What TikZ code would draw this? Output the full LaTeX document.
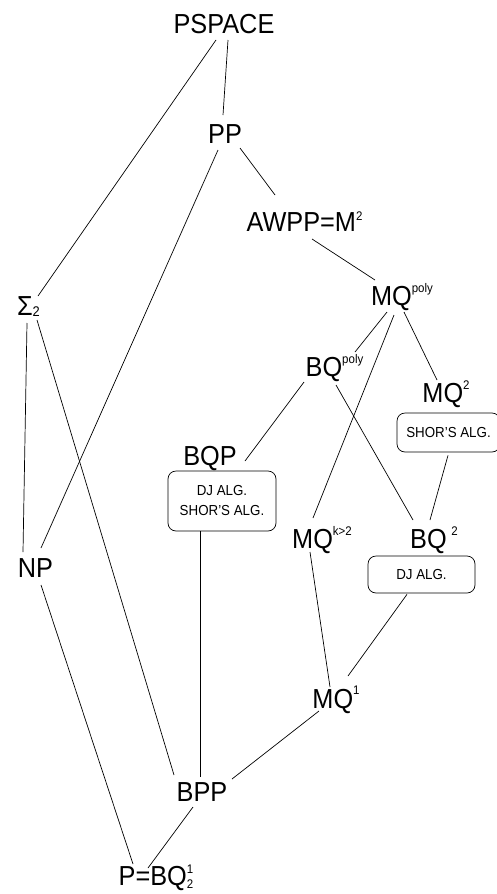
\documentclass[tikz,border=0pt]{standalone}
\usepackage{fontspec}
\setmainfont{Liberation Sans}[FakeStretch=0.92]
\usetikzlibrary{calc}
\newcommand{\supx}[2][11]{\raisebox{#1pt}{\fontsize{12.5}{12}\selectfont #2}}
\newcommand{\subbig}[2][-1]{\raisebox{#1pt}{\fontsize{14}{14}\selectfont #2}}
\begin{document}
\begin{tikzpicture}[x=1pt,y=-1pt,
  lbl/.style={anchor=base,inner sep=0pt,font=\fontsize{27.5}{30}\selectfont},
  box/.style={draw,rounded corners=8pt,line width=0.7pt,inner sep=0pt,align=center,font=\fontsize{14.5}{20}\selectfont},
  edge/.style={line width=0.7pt}]
\useasboundingbox (0,0) rectangle (496,894);
\node[lbl] (PSPACE) at (224,33) {PSPACE};
\node[lbl] (PP) at (225,143) {PP};
\node[lbl] (AWPP) at (304.5,231) {AWPP=M\supx[11]{2}};
\node[lbl] (MQpoly) at (402,305) {MQ\supx[13]{poly}};
\node[lbl] (BQpoly) at (334.5,376) {BQ\supx[13]{poly}};
\node[lbl] (MQtwo) at (446,402) {MQ\supx[13]{2}};
\node[lbl] (BQP) at (210,465) {BQP};
\node[lbl] (MQk) at (322,548) {MQ\supx[13]{k>2}};
\node[lbl] (BQtwo) at (434,548) {BQ\,\supx[13]{2}};
\node[lbl] (MQone) at (336,708) {MQ\supx[14]{1}};
\node[lbl] (BPP) at (202,801) {BPP};
\node[lbl] (P) at (156,885) {P=BQ\rlap{\supx[12]{1}}\supx[-3.5]{2}};
\node[lbl] (NP) at (35.5,577) {NP};
\node[lbl] (Sigma) at (28.5,315) {Σ\subbig[-1.5]{2}};
\node[box,minimum width=108pt,minimum height=60pt] (BQPbox) at (222,501) {DJ ALG.\\SHOR'S ALG.};
\node[box,minimum width=103pt,minimum height=39pt] (MQtwobox) at (448.5,432.5) {SHOR'S ALG.};
\node[box,minimum width=107pt,minimum height=37pt] (BQtwobox) at (421.5,574.5) {DJ ALG.};
\draw[edge] ($(PSPACE.base)+(-8,7)$) -- ($(Sigma.base)+(9.5,-19)$);
\draw[edge] ($(PSPACE.base)+(4,7)$) -- ($(PP.base)+(-2,-28)$);
\draw[edge] ($(PP.base)+(15,5)$) -- ($(AWPP.base)+(-29.5,-36)$);
\draw[edge] ($(PP.base)+(-7,7)$) -- ($(NP.base)+(5.5,-29)$);
\draw[edge] ($(AWPP.base)+(7.5,8)$) -- ($(MQpoly.base)+(-27,-25)$);
\draw[edge] ($(MQpoly.base)+(-15,7)$) -- ($(BQpoly.base)+(20.5,-24)$);
\draw[edge] ($(MQpoly.base)+(-8,10)$) -- ($(MQk.base)+(-9,-30)$);
\draw[edge] ($(MQpoly.base)+(2,7)$) -- ($(MQtwo.base)+(-9,-22)$);
\draw[edge] ($(BQpoly.base)+(-30.5,6)$) -- ($(BQP.base)+(35,-4)$);
\draw[edge] ($(BQpoly.base)+(1.5,9)$) -- ($(BQtwo.base)+(-21,-28)$);
\draw[edge] ($(MQtwobox.south)+(-0.5,3)$) -- ($(BQtwo.base)+(-4,-28)$);
\draw[edge] ($(BQPbox.south)+(-22,0)$) -- ($(BPP.base)+(-2,-24)$);
\draw[edge] ($(MQk.base)+(-12,4)$) -- ($(MQone.base)+(-6,-21)$);
\draw[edge] ($(BQtwobox.south)+(-14.5,1)$) -- ($(MQone.base)+(12,-32)$);
\draw[edge] ($(MQone.base)+(-17,3)$) -- ($(BPP.base)+(30,-22)$);
\draw[edge] ($(BPP.base)+(-9,6)$) -- ($(P.base)+(-8,-17)$);
\draw[edge] ($(NP.base)+(5.5,8)$) -- ($(P.base)+(-23,-21)$);
\draw[edge] ($(Sigma.base)+(-1.5,8)$) -- ($(NP.base)+(-12.5,-25)$);
\draw[edge] ($(Sigma.base)+(8.5,5)$) -- ($(BPP.base)+(-28,-26)$);
\end{tikzpicture}
\end{document}
